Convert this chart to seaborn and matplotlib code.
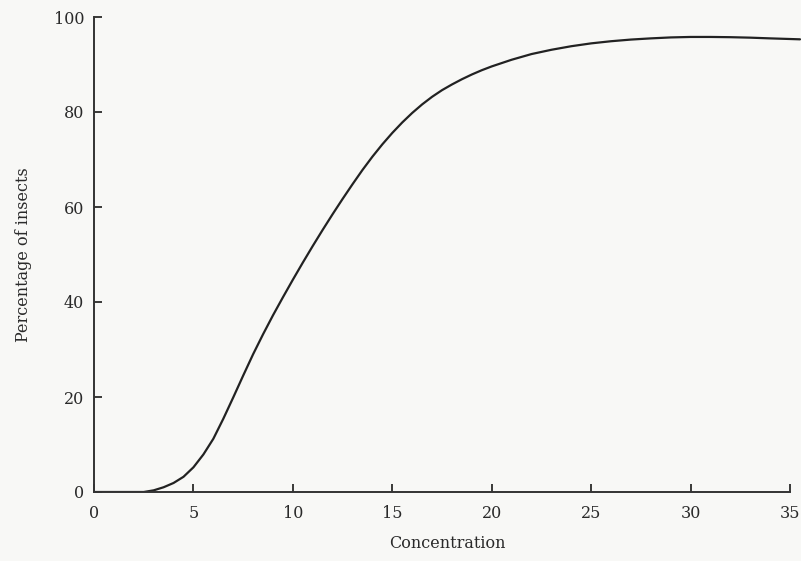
import numpy as np
import pandas as pd
import matplotlib
matplotlib.use("Agg")
import matplotlib.pyplot as plt
import seaborn as sns

# points
concentration = [0, 1.0, 2.0, 2.5, 3.0, 3.5, 4.0, 4.5, 5.0, 5.5, 6.0, 6.5, 7.0, 7.5, 8.0, 8.5,
                 9.0, 9.5, 10.0, 10.5, 11.0, 11.5, 12.0, 12.5, 13.0, 13.5, 14.0, 14.5, 15.0,
                 15.5, 16.0, 16.5, 17.0, 17.5, 18.0, 18.5, 19.0, 19.5, 20.0, 21.0, 22.0, 23.0,
                 24.0, 25.0, 26.0, 27.0, 28.0, 29.0, 30.0, 31.0, 32.0, 33.0, 34.0, 35.5]
percent_insects = [0, 0, 0, 0, 0.35, 1.0, 1.9, 3.2, 5.2, 7.9, 11.2, 15.4, 19.9, 24.5, 29.0, 33.2,
                   37.2, 41.0, 44.7, 48.3, 51.8, 55.2, 58.5, 61.7, 64.8, 67.8, 70.6, 73.2, 75.6,
                   77.8, 79.8, 81.6, 83.2, 84.6, 85.8, 86.9, 87.9, 88.8, 89.6, 91.0, 92.2, 93.1,
                   93.85, 94.45, 94.9, 95.25, 95.5, 95.7, 95.8, 95.8, 95.75, 95.65, 95.5, 95.3]
x_ticks = [0, 5, 10, 15, 20, 25, 30, 35]
y_ticks = [0, 20, 40, 60, 80, 100]

df = pd.DataFrame({"Concentration": concentration, "Percentage": percent_insects})

sns.set_style("ticks")
plt.rcParams['font.family'] = ['DejaVu Serif']

fig = plt.figure(figsize=(8.01, 5.61), dpi=100, facecolor="#f8f8f6")
ax = fig.add_axes([94 / 801, 1 - 492 / 561, 707 / 801, 475 / 561])
ax.set_facecolor("#f8f8f6")

sns.lineplot(data=df, x="Concentration", y="Percentage", ax=ax, color="#222222", linewidth=1.6)

ax.set_xlim(0, 35.55)
ax.set_ylim(0, 100)
ax.set_xticks(x_ticks)
ax.set_yticks(y_ticks)
ax.spines['top'].set_visible(False)
ax.spines['right'].set_visible(False)
ax.spines['bottom'].set_bounds(0, 35)
for s in ['left', 'bottom']:
    ax.spines[s].set_color("#333333")
    ax.spines[s].set_linewidth(1.4)
ax.tick_params(direction='in', length=6, width=1.3, colors="#2a2a2a", labelsize=11.5, pad=9)
ax.tick_params(axis='y', pad=7)

ax.set_xlabel("Concentration", fontsize=11.5, color="#2a2a2a", labelpad=10)
ax.set_ylabel("Percentage of insects", fontsize=11.5, color="#2a2a2a", labelpad=16)

plt.savefig("out.png", dpi=100, facecolor=fig.get_facecolor())
